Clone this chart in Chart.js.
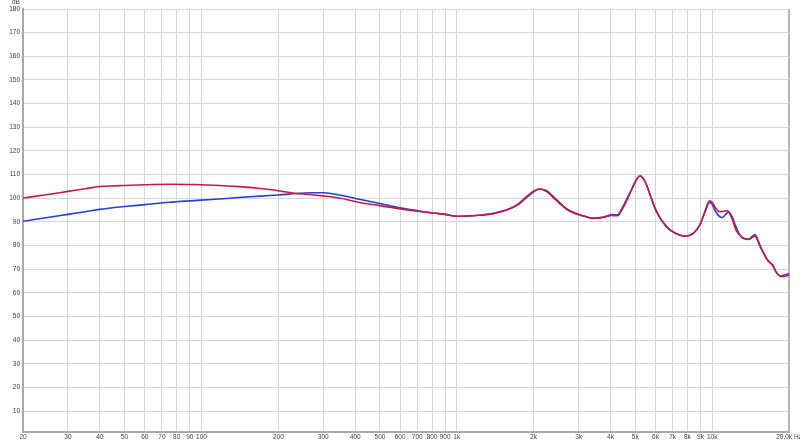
<!DOCTYPE html>
<html>
<head>
<meta charset="utf-8">
<script src="https://cdn.jsdelivr.net/npm/chart.js@4.4.0/dist/chart.umd.min.js"></script>
<style>
  html, body { margin: 0; padding: 0; background: #ffffff; }
  #wrap { width: 800px; height: 443px; position: relative; }
</style>
</head>
<body>
<div id="wrap"><canvas id="frChart"></canvas></div>
<script>
// frequencies in Hz, shared by both curves
const freqs = [20, 25, 30, 35, 40, 42, 50, 60, 75, 90, 110, 140, 170, 200, 236, 270, 300, 350, 420, 500,
  600, 700, 805, 900, 1000, 1100, 1215, 1380, 1480, 1600, 1735, 1900, 2000, 2110, 2250, 2370, 2500, 2690,
  2900, 3225, 3420, 3650, 3900, 4040, 4200, 4300, 4450, 4640, 4850, 5050, 5220, 5400, 5540, 5800, 6050,
  6620, 7240, 7860, 8420, 8960, 9400, 9760, 10000, 10300, 10700, 10900, 11400, 11600, 12000, 12400,
  13200, 13900, 14700, 15500, 16500, 17300, 17800, 18600, 19300, 20000];

// dB values
const blueValues = [90.3, 91.9, 93.2, 94.3, 95.3, 95.6, 96.5, 97.3, 98.3, 98.9, 99.5, 100.3, 100.9, 101.4, 102.0, 102.3, 102.3, 101.3, 99.5, 97.8,
  96.0, 94.8, 93.8, 93.2, 92.4, 92.5, 92.8, 93.5, 94.3, 95.4, 97.2, 100.8, 102.7, 103.9, 103.2, 101.0, 98.7, 95.6,
  93.8, 92.2, 91.6, 91.8, 92.6, 93.1, 93.0, 93.3, 96.0, 99.8, 104.0, 107.8, 109.4, 108.0, 105.5, 99.5, 94.5,
  88.0, 85.0, 84.0, 85.1, 88.9, 94.5, 98.2, 97.5, 94.5, 92.2, 91.8, 93.6, 94.2, 92.0, 87.9,
  83.0, 82.8, 84.7, 79.4, 73.8, 71.7, 68.9, 67.1, 67.6, 68.2];

const redValues = [100.1, 101.6, 102.9, 104.0, 105.0, 105.1, 105.4, 105.7, 105.9, 105.8, 105.5, 104.9, 104.1, 103.2, 102.0, 101.5, 101.0, 100.0, 98.1, 96.9,
  95.5, 94.5, 93.8, 93.2, 92.4, 92.5, 92.8, 93.5, 94.3, 95.5, 97.5, 101.2, 103.0, 103.9, 102.8, 100.6, 98.3, 95.3,
  93.6, 92.1, 91.5, 91.7, 92.4, 92.7, 92.6, 92.9, 95.4, 99.3, 103.8, 107.8, 109.5, 108.0, 105.5, 99.5, 94.5,
  88.0, 85.0, 84.0, 85.1, 88.9, 94.8, 98.9, 98.3, 96.0, 94.3, 94.4, 94.7, 94.3, 91.0, 86.5,
  83.3, 82.6, 84.0, 79.0, 73.8, 71.4, 68.8, 67.0, 67.1, 67.5];

// axis ticks
const xTicks = [20, 30, 40, 50, 60, 70, 80, 90, 100, 200, 300, 400, 500, 600, 700, 800, 900,
  1000, 2000, 3000, 4000, 5000, 6000, 7000, 8000, 9000, 10000, 20000];
const xLabels = ['20', '30', '40', '50', '60', '70', '80', '90', '100', '200', '300', '400', '500', '600', '700', '800', '900',
  '1k', '2k', '3k', '4k', '5k', '6k', '7k', '8k', '9k', '10k', '20,0k Hz'];
const yTicks = [10, 20, 30, 40, 50, 60, 70, 80, 90, 100, 110, 120, 130, 140, 150, 160, 170, 180];

const ctx = document.getElementById('frChart').getContext('2d');

function toPoints(vals) {
    return freqs.map((f, i) => ({ x: f, y: vals[i] }));
}

const unitLabel = {
    id: 'unitLabel',
    afterDraw(chart) {
        const c = chart.ctx;
        c.save();
        c.font = '6.5px "Liberation Sans", Arial, sans-serif';
        c.fillStyle = '#404040';
        c.textAlign = 'left';
        c.textBaseline = 'middle';
        c.fillText('dB', 12, 2.5);
        c.restore();
    }
};

const chart = new Chart(ctx, {
    type: 'line',
    data: {
        datasets: [
            {
                label: 'red',
                data: toPoints(redValues),
                borderColor: 'rgb(200,25,70)',
                borderWidth: 1.6,
                pointRadius: 0,
                cubicInterpolationMode: 'monotone',
                order: 0
            },
            {
                label: 'blue',
                data: toPoints(blueValues),
                borderColor: 'rgb(40,60,215)',
                borderWidth: 1.6,
                pointRadius: 0,
                cubicInterpolationMode: 'monotone',
                order: 1
            }
        ]
    },
    options: {
        responsive: true,
        maintainAspectRatio: false,
        animation: false,
        layout: { padding: { left: 0, right: 11, top: 9, bottom: 0 } },
        plugins: {
            legend: { display: false },
            tooltip: { enabled: false }
        },
        scales: {
            x: {
                type: 'logarithmic',
                min: 20,
                max: 20000,
                afterBuildTicks: s => { s.ticks = xTicks.map(v => ({ value: v })); },
                afterFit: s => { s.height = 11; s.paddingLeft = 0; s.paddingRight = 0; },
                ticks: {
                    autoSkip: false,
                    maxRotation: 0,
                    padding: 1,
                    color: '#404040',
                    font: { family: '"Liberation Sans", Arial, sans-serif', size: 6.5 },
                    callback: (value, index) => xLabels[index]
                },
                grid: {
                    color: c => (c.tick && c.tick.value === 20000) ? '#b4b4b4' : '#d6d6d6',
                    lineWidth: c => (c.tick && c.tick.value === 20000) ? 2 : 1,
                    tickLength: 0
                },
                border: { color: '#a8a8a8', width: 2 }
            },
            y: {
                min: 1.2,
                max: 180,
                afterBuildTicks: s => { s.ticks = yTicks.map(v => ({ value: v })); },
                afterFit: s => { s.width = 23; s.paddingTop = 0; s.paddingBottom = 0; },
                ticks: {
                    padding: 3,
                    color: '#404040',
                    font: { family: '"Liberation Sans", Arial, sans-serif', size: 6.5 }
                },
                grid: { color: '#d6d6d6', tickLength: 0 },
                border: { color: '#a8a8a8', width: 2 }
            }
        }
    },
    plugins: [unitLabel]
});
</script>
</body>
</html>
